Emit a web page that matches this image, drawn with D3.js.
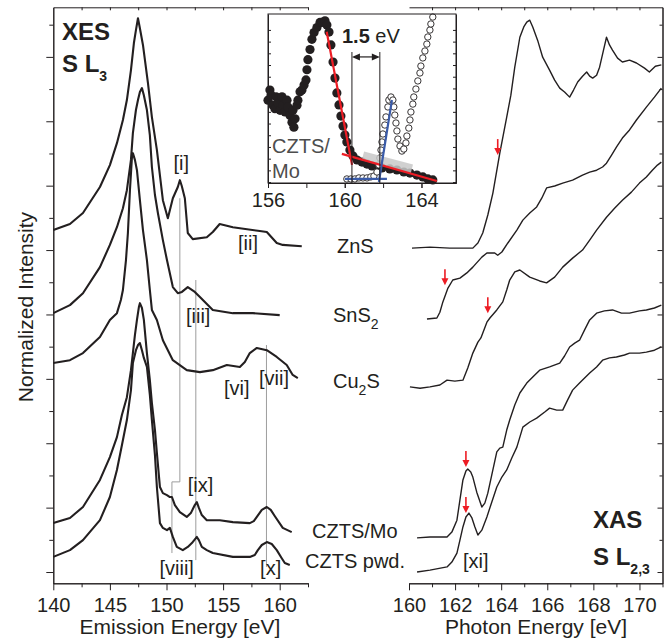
<!DOCTYPE html>
<html>
<head>
<meta charset="utf-8">
<script src="https://cdn.jsdelivr.net/npm/d3@7"></script>
<style>
  body { margin: 0; background: #fff; }
  text { font-family: "Liberation Sans", Arial, sans-serif; fill: #231f20; }
</style>
</head>
<body>
<svg id="chart" width="670" height="642"></svg>
<script>
// ---- XES (emission energy [eV], normalized intensity with offset) ----
var xesZnS = [[140.0,10.62],[141.47,10.81],[142.62,11.15],[144.12,11.96],[145.0,12.64],[145.62,13.32],[146.15,14.04],[146.5,14.66],[146.86,15.59],[147.12,16.43],[147.3,16.83],[147.48,17.2],[147.65,16.89],[147.92,16.37],[148.36,15.19],[148.71,14.13],[149.15,13.11],[149.68,11.55],[150.12,10.99],[150.56,11.61],[151.0,11.96],[151.18,12.17],[151.35,11.99],[151.62,11.61],[151.88,10.53],[152.32,10.34],[153.56,10.40],[154.09,10.56],[154.7,10.81],[155.86,10.71],[158.24,10.59],[158.86,10.56],[159.74,10.22],[160.27,10.16],[161.95,10.12]];
var xesSnS2 = [[140.0,8.04],[141.47,8.29],[142.62,8.66],[144.12,9.47],[145.0,10.16],[145.62,10.71],[146.15,11.30],[146.5,11.86],[146.86,12.80],[147.03,13.63],[147.3,14.35],[147.48,14.66],[147.65,14.91],[147.83,15.03],[148.0,14.81],[148.27,14.35],[148.53,13.57],[148.71,12.58],[148.98,11.71],[149.24,11.15],[149.68,10.31],[150.04,9.69],[150.56,8.85],[151.0,8.66],[151.36,8.70],[151.88,8.85],[152.5,8.70],[152.95,8.54],[154.09,8.14],[155.86,8.04],[157.62,8.04],[160.0,7.98]];
var xesCu2S = [[140.0,6.49],[141.47,6.58],[142.62,6.80],[144.12,7.30],[145.0,7.83],[145.62,8.04],[145.97,8.45],[146.15,8.76],[146.42,9.69],[146.59,10.53],[146.77,11.86],[146.95,12.89],[147.03,13.01],[147.21,12.80],[147.39,12.48],[147.65,11.55],[147.92,10.62],[148.27,9.69],[148.53,8.76],[148.71,8.14],[149.15,7.83],[149.68,7.20],[150.56,6.58],[151.79,6.27],[152.95,6.21],[154.09,6.27],[155.33,6.43],[156.48,6.37],[156.92,6.52],[157.36,6.80],[157.98,6.96],[158.86,6.89],[159.74,6.68],[160.62,6.43],[161.15,6.12],[161.6,6.02]];
var xesCztsMo = [[140.0,1.52],[141.47,1.68],[142.62,2.02],[144.12,2.86],[145.0,3.57],[145.62,4.19],[146.06,4.88],[146.5,5.43],[146.86,6.27],[147.03,6.80],[147.21,7.36],[147.39,7.83],[147.56,8.23],[147.65,8.35],[147.83,8.20],[148.0,7.83],[148.27,6.80],[148.53,5.96],[148.71,5.25],[148.98,4.41],[149.15,3.70],[149.42,2.64],[149.68,2.45],[150.04,2.39],[150.3,2.33],[150.48,2.33],[150.74,2.08],[151.18,1.86],[151.79,1.71],[152.15,1.83],[152.5,2.08],[152.68,2.17],[152.86,1.99],[153.12,1.77],[153.56,1.61],[154.71,1.61],[155.86,1.55],[157.36,1.52],[157.71,1.58],[157.98,1.71],[158.42,1.93],[158.86,2.02],[159.21,1.93],[159.56,1.74],[160.27,1.37],[161.06,1.24]];
var xesCztsPwd = [[140.0,0.47],[141.47,0.68],[142.62,0.99],[144.12,1.61],[145.0,2.33],[145.62,3.17],[146.06,3.94],[146.5,4.72],[146.86,5.65],[147.03,6.49],[147.3,6.89],[147.48,7.05],[147.65,7.11],[147.83,6.89],[148.0,6.65],[148.27,6.37],[148.53,5.50],[148.71,4.72],[148.98,3.63],[149.15,2.64],[149.42,1.52],[149.68,1.37],[150.04,1.30],[150.3,1.37],[150.56,1.09],[150.91,0.78],[151.44,0.68],[151.88,0.78],[152.24,0.90],[152.68,1.09],[152.86,0.99],[153.12,0.78],[153.56,0.68],[154.09,0.59],[155.86,0.47],[157.36,0.47],[157.8,0.53],[158.07,0.68],[158.42,0.84],[158.86,0.93],[159.3,0.87],[159.74,0.68],[160.18,0.43],[160.45,0.28],[160.89,0.22]];

// ---- XAS (photon energy [eV], normalized intensity with offset) ----
var xasZnS = [[160.13,10.06],[160.91,10.09],[161.77,10.06],[162.77,10.06],[162.99,10.22],[163.2,10.53],[163.42,11.09],[163.64,11.77],[163.94,13.01],[164.24,14.13],[164.42,14.81],[164.59,15.68],[164.81,16.61],[164.98,16.93],[165.11,17.08],[165.24,17.14],[165.37,16.93],[165.58,16.52],[165.8,15.99],[166.1,15.59],[166.32,15.28],[166.54,15.03],[166.75,14.91],[166.97,14.75],[167.14,14.97],[167.32,15.22],[167.53,15.40],[167.71,15.53],[167.84,15.40],[167.97,15.34],[168.14,15.43],[168.27,15.68],[168.44,16.21],[168.57,16.61],[168.7,16.37],[168.83,16.21],[169.05,15.96],[169.26,15.84],[169.57,15.90],[169.87,15.81],[170.22,15.65],[170.43,15.53],[170.69,15.71],[170.95,15.75]];
var xasSnS2 = [[160.78,7.86],[161.21,7.89],[161.34,8.07],[161.47,8.39],[161.69,8.82],[161.9,9.07],[162.21,9.13],[162.51,9.29],[162.77,9.47],[163.16,9.78],[163.38,9.91],[163.72,9.91],[163.85,9.84],[164.03,9.94],[164.29,10.22],[164.68,10.62],[164.94,10.93],[165.24,11.15],[165.54,11.34],[165.76,11.61],[165.97,11.93],[166.32,11.99],[166.67,12.08],[167.1,12.17],[167.53,12.33],[167.84,12.42],[168.14,12.48],[168.4,12.58],[168.57,12.70],[168.79,12.95],[169.0,13.2],[169.26,13.48],[169.57,13.73],[169.87,14.04],[170.3,14.44],[170.65,14.75],[170.95,15.03]];
var xasCu2S = [[160.04,5.75],[160.48,5.71],[160.91,5.75],[161.34,5.81],[161.65,5.96],[161.99,5.93],[162.34,5.96],[162.55,6.34],[162.77,6.80],[162.99,7.14],[163.12,7.27],[163.38,7.76],[163.51,7.89],[163.81,8.14],[164.07,8.39],[164.24,8.76],[164.37,9.07],[164.59,9.32],[164.81,9.38],[165.24,9.16],[165.67,9.04],[165.97,8.98],[166.32,9.16],[166.67,9.47],[167.1,9.75],[167.53,10.0],[167.84,10.31],[168.14,10.62],[168.57,11.02],[168.92,11.30],[169.26,11.55],[169.65,11.80],[170.0,12.08],[170.3,12.27],[170.56,12.48],[170.78,12.64],[170.95,12.73]];
var xasCztsMo = [[160.35,1.06],[160.91,1.09],[161.65,1.09],[161.86,1.24],[162.08,1.61],[162.21,2.24],[162.34,2.86],[162.47,3.14],[162.55,3.20],[162.68,3.11],[162.77,2.95],[162.94,2.48],[163.16,2.02],[163.29,2.14],[163.42,2.45],[163.59,3.01],[163.81,3.73],[163.94,3.85],[164.07,3.88],[164.24,4.41],[164.37,4.72],[164.59,5.19],[164.81,5.56],[165.11,5.87],[165.37,6.06],[165.67,6.27],[166.1,6.37],[166.54,6.49],[166.75,6.71],[166.97,6.99],[167.19,7.11],[167.4,7.20],[167.62,7.52],[167.84,7.83],[168.14,8.04],[168.48,8.11],[168.83,8.14],[169.22,8.04],[169.57,8.04],[170.0,8.11],[170.3,8.14],[170.65,8.20],[170.95,8.29]];
var xasCztsPwd = [[160.35,0.0],[160.91,0.06],[161.65,0.16],[161.86,0.31],[162.08,0.59],[162.21,0.99],[162.34,1.40],[162.47,1.71],[162.6,1.83],[162.73,1.68],[162.86,1.40],[162.99,1.15],[163.16,1.30],[163.38,1.71],[163.59,2.17],[163.81,2.64],[164.03,2.95],[164.24,3.17],[164.46,3.54],[164.68,3.88],[164.94,4.50],[165.24,4.66],[165.54,4.78],[165.89,4.97],[166.1,5.09],[166.41,5.03],[166.67,5.03],[166.88,5.34],[167.1,5.65],[167.4,5.87],[167.84,6.18],[168.14,6.37],[168.4,6.58],[168.7,6.65],[169.0,6.68],[169.35,6.74],[169.57,6.80],[170.0,6.80],[170.3,6.83],[170.65,6.89],[170.95,6.99]];

// ---- inset: CZTS/Mo band edges (photon energy [eV], relative intensity) ----
var insetXes = [[156.0,0.49],[156.1,0.55],[156.16,0.52],[156.26,0.46],[156.36,0.44],[156.42,0.51],[156.52,0.47],[156.63,0.43],[156.73,0.51],[156.78,0.46],[156.89,0.42],[156.99,0.49],[157.04,0.45],[157.15,0.40],[157.25,0.36],[157.3,0.43],[157.35,0.33],[157.41,0.38],[157.51,0.46],[157.56,0.49],[157.67,0.54],[157.77,0.55],[157.88,0.58],[157.98,0.61],[158.03,0.67],[158.08,0.73],[158.19,0.79],[158.29,0.85],[158.4,0.89],[158.55,0.92],[158.71,0.95],[158.81,0.95],[158.97,0.96],[159.07,0.935],[159.18,0.893],[159.28,0.817],[159.39,0.716],[159.49,0.621],[159.59,0.533],[159.7,0.462],[159.8,0.396],[159.91,0.337],[160.01,0.284],[160.11,0.243],[160.27,0.195],[160.43,0.16],[160.64,0.136],[160.9,0.124],[161.16,0.112],[161.42,0.101],[161.68,0.095],[161.94,0.089],[162.35,0.083],[162.72,0.077],[163.08,0.065],[163.4,0.059],[163.76,0.047],[164.07,0.036],[164.33,0.024],[164.59,0.018]];
var insetXas = [[160.11,0.024],[160.32,0.024],[160.53,0.024],[160.74,0.03],[160.95,0.03],[161.16,0.03],[161.36,0.036],[161.52,0.041],[161.68,0.065],[161.78,0.107],[161.83,0.148],[161.89,0.195],[161.94,0.243],[161.99,0.29],[162.09,0.343],[162.15,0.391],[162.25,0.45],[162.3,0.491],[162.41,0.509],[162.51,0.491],[162.56,0.45],[162.61,0.402],[162.67,0.355],[162.72,0.308],[162.77,0.26],[162.88,0.219],[162.98,0.189],[163.08,0.201],[163.19,0.237],[163.24,0.278],[163.34,0.325],[163.4,0.373],[163.45,0.42],[163.55,0.467],[163.6,0.509],[163.71,0.556],[163.81,0.604],[163.92,0.651],[163.97,0.692],[164.07,0.74],[164.18,0.781],[164.28,0.822],[164.33,0.864],[164.44,0.905],[164.49,0.941],[164.59,0.982]];
var fitRed = [[[159.06,0.895],[160.38,0.107]], [[159.85,0.172],[164.8,0.012]]];
var fitBlue = [[[160.01,0.024],[162.2,0.024]], [[161.78,0.006],[162.46,0.491]]];
var fitGray = [[160.95,0.16],[163.5,0.083]];
var gapEdges = [160.375, 161.83];

// ---- annotations ----
var xesLabels = [["[i]",151.3,12.5],["[ii]",157.2,10.0],["[iii]",152.8,7.75],["[vi]",156.2,5.5],["[vii]",159.5,5.8],["[ix]",153.0,2.5],["[viii]",150.9,-0.1],["[x]",159.2,-0.1]];
var sampleLabels = [["ZnS",""],["SnS","2"],["Cu","2","S"],["CZTS/Mo",""],["CZTS pwd.",""]];
var sampleLabelPos = [[337,253],[333,322],[333,388],[312,538],[305,568]];
var xasArrows = [[163.85,12.95],[161.56,8.91],[163.42,8.04],[162.47,3.26],[162.47,1.83]];
// guide lines linking XES features: [eV, intensity] vertices
var guides = [
  [[151.18,11.61],[151.18,2.80],[150.48,2.80],[150.48,0.59]],
  [[152.59,9.07],[152.59,0.37]],
  [[158.83,7.05],[158.83,0.16]]
];
var xesTicksMajor = [140, 145, 150, 155, 160];
var xasTicksMajor = [160, 162, 164, 166, 168, 170];
var insetTicks = [156, 160, 164];

var ink = "#231f20", red = "#ed1c24", blue = "#3a5ba9";
var svg = d3.select("#chart");

var xL = d3.scaleLinear().domain([140, 162.5]).range([53.3, 308]);
var xR = d3.scaleLinear().domain([160, 171]).range([409, 662.5]);
var y = d3.scaleLinear().domain([-0.35, 17.54]).range([583.3, 7.3]);
var xI = d3.scaleLinear().domain([156, 165.8]).range([268, 456]);
var yI = d3.scaleLinear().domain([0, 1]).range([183, 14]);

var styleAxis = function(g) {
  g.style("color", ink).attr("font-family", "Liberation Sans, Arial, sans-serif").attr("font-size", 20);
  g.selectAll("path, line").attr("stroke-width", 1);
};

var drawAxis = function(axis, tx, ty) {
  return svg.append("g").attr("transform", "translate(" + tx + "," + ty + ")").call(axis).call(styleAxis);
};

// bottom axes
drawAxis(d3.axisBottom(xL).tickValues(xesTicksMajor).tickSize(7).tickSizeOuter(0).tickPadding(8), 0, 583.3);
drawAxis(d3.axisBottom(xL).tickValues(d3.range(142.5, 163, 5)).tickSize(4).tickSizeOuter(0).tickFormat(""), 0, 583.3);
drawAxis(d3.axisBottom(xR).tickValues(xasTicksMajor).tickSize(7).tickSizeOuter(0).tickPadding(8), 0, 583.3);
drawAxis(d3.axisBottom(xR).tickValues(d3.range(161, 172, 2)).tickSize(4).tickSizeOuter(0).tickFormat(""), 0, 583.3);
// top axes
drawAxis(d3.axisTop(xL).tickValues(d3.range(142.5, 163, 2.5)).tickSize(-3).tickSizeOuter(0).tickFormat(""), 0, 7.3);
drawAxis(d3.axisTop(xR).tickValues(d3.range(161, 171, 1)).tickSize(-3).tickSizeOuter(0).tickFormat(""), 0, 7.3);
// intensity axes (no labels)
drawAxis(d3.axisLeft(y).tickValues(d3.range(0, 18, 2)).tickSize(7).tickSizeOuter(0).tickFormat(""), 53.3, 0);
drawAxis(d3.axisLeft(y).tickValues(d3.range(1, 18, 2)).tickSize(4).tickSizeOuter(0).tickFormat(""), 53.3, 0);
drawAxis(d3.axisRight(y).tickValues(d3.range(0, 18, 2)).tickSize(-5).tickSizeOuter(0).tickFormat(""), 662.5, 0);
drawAxis(d3.axisRight(y).tickValues(d3.range(1, 18, 2)).tickSize(-3).tickSizeOuter(0).tickFormat(""), 662.5, 0);

// axis titles
svg.append("text").attr("x", 180).attr("y", 634).attr("text-anchor", "middle").attr("font-size", 21).text("Emission Energy [eV]");
svg.append("text").attr("x", 536).attr("y", 634).attr("text-anchor", "middle").attr("font-size", 21).text("Photon Energy [eV]");
svg.append("text").attr("transform", "translate(33,307) rotate(-90)").attr("text-anchor", "middle").attr("font-size", 21).text("Normalized Intensity");

// gray guide lines behind the spectra
var guideLine = d3.line().x(function(d) { return xL(d[0]); }).y(function(d) { return y(d[1]); });
svg.selectAll(".guide").data(guides).enter().append("path")
  .attr("class", "guide").attr("d", guideLine)
  .attr("fill", "none").attr("stroke", "#9d9d9d").attr("stroke-width", 1);

// spectra
var xesLine = d3.line().x(function(d) { return xL(d[0]); }).y(function(d) { return y(d[1]); });
var xasLine = d3.line().x(function(d) { return xR(d[0]); }).y(function(d) { return y(d[1]); });
svg.selectAll(".xes").data([xesZnS, xesSnS2, xesCu2S, xesCztsMo, xesCztsPwd]).enter().append("path")
  .attr("class", "xes").attr("d", xesLine)
  .attr("fill", "none").attr("stroke", ink).attr("stroke-width", 2.1).attr("stroke-linejoin", "round");
svg.selectAll(".xas").data([xasZnS, xasSnS2, xasCu2S, xasCztsMo, xasCztsPwd]).enter().append("path")
  .attr("class", "xas").attr("d", xasLine)
  .attr("fill", "none").attr("stroke", ink).attr("stroke-width", 1.4).attr("stroke-linejoin", "round");

// red arrows marking the absorption onsets
var arrows = svg.selectAll(".arrow").data(xasArrows).enter().append("g").attr("class", "arrow")
  .attr("transform", function(d) { return "translate(" + xR(d[0]) + "," + y(d[1]) + ")"; });
arrows.append("line").attr("x1", 0).attr("x2", 0).attr("y1", -16).attr("y2", -6).attr("stroke", red).attr("stroke-width", 1.6);
arrows.append("path").attr("d", "M-3.5,-7 L3.5,-7 L0,0 Z").attr("fill", red);

// feature labels
svg.selectAll(".feat").data(xesLabels).enter().append("text")
  .attr("class", "feat").attr("x", function(d) { return xL(d[1]); }).attr("y", function(d) { return y(d[2]); })
  .attr("text-anchor", "middle").attr("font-size", 20).text(function(d) { return d[0]; });
svg.append("text").attr("x", xR(162.9)).attr("y", y(0.12)).attr("text-anchor", "middle").attr("font-size", 20).text("[xi]");

// sample names, with subscripts
sampleLabels.forEach(function(s, i) {
  var t = svg.append("text").attr("x", sampleLabelPos[i][0]).attr("y", sampleLabelPos[i][1]).attr("font-size", 20);
  t.append("tspan").text(s[0]);
  if (s[1]) t.append("tspan").attr("font-size", 14).attr("dy", 7).text(s[1]);
  if (s[2]) t.append("tspan").attr("dy", -7).text(s[2]);
});

// panel titles
var title = function(x, y0, main, sub) {
  var t = svg.append("text").attr("x", x).attr("y", y0).attr("font-size", 24).attr("font-weight", "bold");
  t.append("tspan").text(main);
  if (sub) t.append("tspan").attr("font-size", 14).attr("dy", 9).text(sub);
};
title(62, 40, "XES");
title(62, 72, "S L", "3");
title(593, 528, "XAS");
title(593, 565, "S L", "2,3");

// ---- inset ----
var inset = svg.append("g").attr("class", "inset");
inset.append("rect").attr("x", xI(156)).attr("y", yI(1)).attr("width", xI(165.8) - xI(156)).attr("height", yI(0) - yI(1))
  .attr("fill", "#fff");
inset.selectAll(".dotF").data(insetXes).enter().append("circle")
  .attr("cx", function(d) { return xI(d[0]); }).attr("cy", function(d) { return yI(d[1]); })
  .attr("r", 4.6).attr("fill", ink);
inset.selectAll(".dotO").data(insetXas).enter().append("circle")
  .attr("cx", function(d) { return xI(d[0]); }).attr("cy", function(d) { return yI(d[1]); })
  .attr("r", 3.2).attr("fill", "#fff").attr("stroke", ink).attr("stroke-width", 0.9);

var fitLine = d3.line().x(function(d) { return xI(d[0]); }).y(function(d) { return yI(d[1]); });
inset.append("path").attr("d", fitLine(fitGray)).attr("stroke", "#c8c8c8").attr("stroke-width", 9).attr("stroke-opacity", 0.85).attr("fill", "none");
inset.selectAll(".fitR").data(fitRed).enter().append("path").attr("d", fitLine)
  .attr("stroke", red).attr("stroke-width", 2.2).attr("fill", "none");
inset.selectAll(".fitB").data(fitBlue).enter().append("path").attr("d", fitLine)
  .attr("stroke", blue).attr("stroke-width", 2.2).attr("fill", "none");

// band gap marker
inset.selectAll(".gap").data(gapEdges).enter().append("line")
  .attr("x1", function(d) { return xI(d); }).attr("x2", function(d) { return xI(d); })
  .attr("y1", yI(0.775)).attr("y2", yI(0)).attr("stroke", ink).attr("stroke-width", 1);
var ay = yI(0.746), ax1 = xI(gapEdges[0]), ax2 = xI(gapEdges[1]);
inset.append("line").attr("x1", ax1 + 6).attr("x2", ax2 - 6).attr("y1", ay).attr("y2", ay).attr("stroke", ink).attr("stroke-width", 1.2);
inset.append("path").attr("d", "M" + ax1 + "," + ay + " l8,-3.5 l0,7 Z M" + ax2 + "," + ay + " l-8,-3.5 l0,7 Z").attr("fill", ink);
var gapText = inset.append("text").attr("x", 342).attr("y", 43).attr("font-size", 20);
gapText.append("tspan").attr("font-weight", "bold").text("1.5");
gapText.append("tspan").text(" eV");

inset.append("text").attr("x", 272).attr("y", 153).attr("font-size", 20).style("fill", "#4d4d4d").text("CZTS/");
inset.append("text").attr("x", 272).attr("y", 178).attr("font-size", 20).style("fill", "#4d4d4d").text("Mo");

inset.append("rect").attr("x", xI(156)).attr("y", yI(1)).attr("width", xI(165.8) - xI(156)).attr("height", yI(0) - yI(1))
  .attr("fill", "none").attr("stroke", ink).attr("stroke-width", 1);

var insetAxisY = d3.range(14).map(function(k) { return (0.08 + k) / 14.44; });
var insetG = function(axis, tx, ty) {
  return inset.append("g").attr("transform", "translate(" + tx + "," + ty + ")").call(axis).call(styleAxis);
};
insetG(d3.axisBottom(xI).tickValues(d3.range(156, 166, 2)).tickSize(5).tickSizeOuter(0).tickFormat(""), 0, yI(0));
insetG(d3.axisBottom(xI).tickValues(insetTicks).tickSize(5).tickSizeOuter(0).tickPadding(5), 0, yI(0));
insetG(d3.axisLeft(yI).tickValues(insetAxisY).tickSize(-3).tickSizeOuter(0).tickFormat(""), xI(156), 0);
insetG(d3.axisRight(yI).tickValues(insetAxisY).tickSize(-3).tickSizeOuter(0).tickFormat(""), xI(165.8), 0);
</script>
</body>
</html>
